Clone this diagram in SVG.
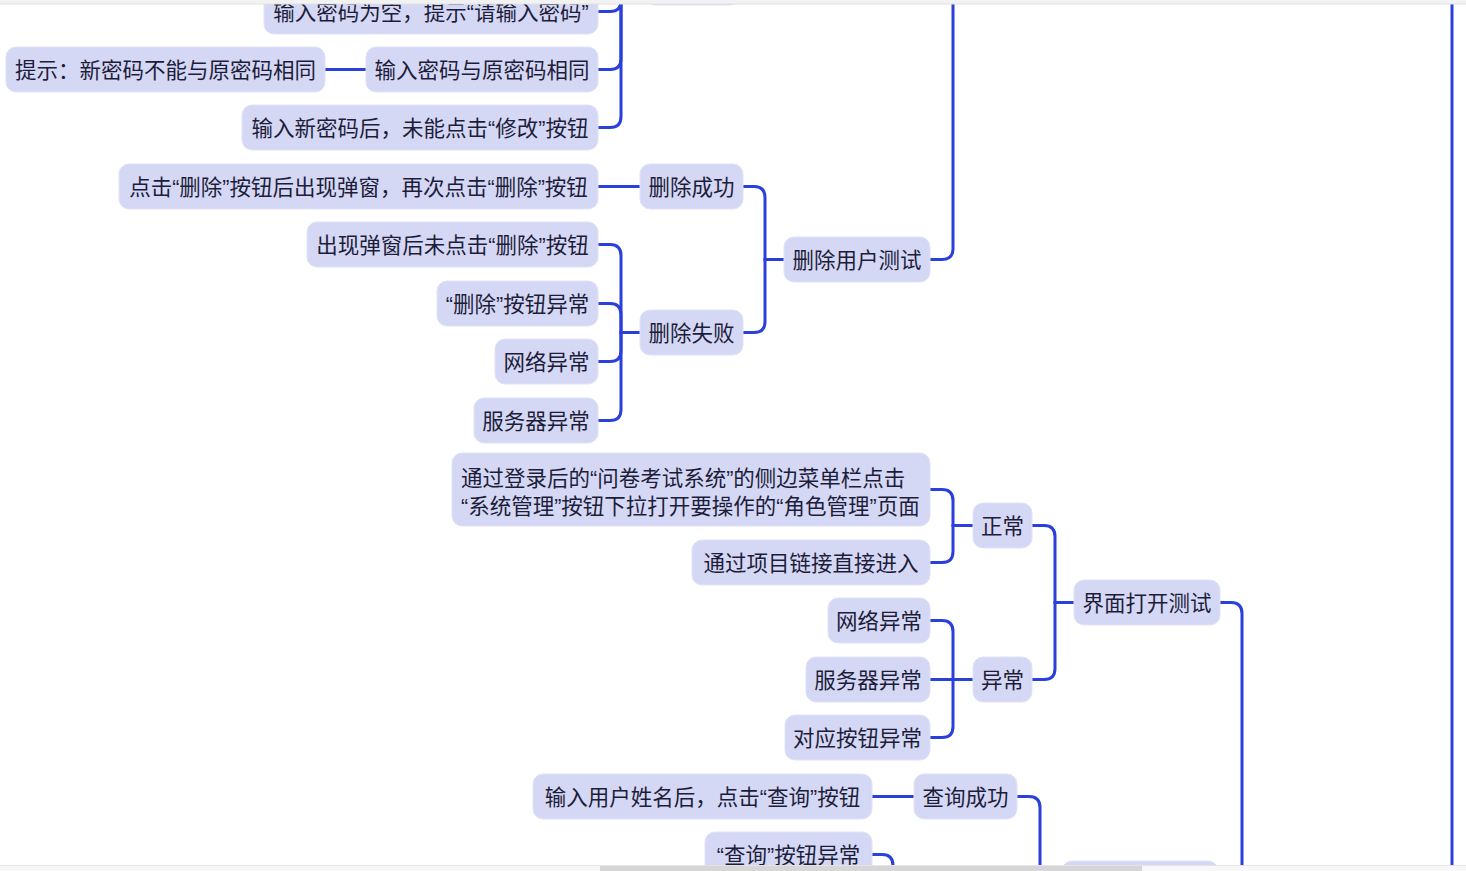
<svg xmlns="http://www.w3.org/2000/svg" width="1466" height="871" viewBox="0 0 1466 871">
<style>
.n rect{fill:#d5d8f5;stroke:#dfe2f8;stroke-width:1}
.n text{font-family:"Liberation Sans","Noto Sans CJK SC",sans-serif;font-size:21.5px;fill:#1d1d3a;text-anchor:middle}
.n text.l{text-anchor:start}
#links path{fill:none;stroke:#2b3fdb;stroke-width:3;stroke-linecap:round}
</style>
<rect width="1466" height="871" fill="#ffffff"/>
<g id="links">
<path d="M325,69.5 H366"/>
<path d="M598,11.5 H610 Q621,11.5 621,0.5 V-18 H645"/>
<path d="M598,69.5 H610 Q621,69.5 621,58.5 V-18 H645"/>
<path d="M598,127.5 H610 Q621,127.5 621,116.5 V-18 H645"/>
<path d="M598,186.5 H640"/>
<path d="M598,244.5 H610 Q621,244.5 621,255.5 V332.5 H640"/>
<path d="M598,303.5 H610 Q621,303.5 621,314.5 V332.5 H640"/>
<path d="M598,361.5 H610 Q621,361.5 621,350.5 V332.5 H640"/>
<path d="M598,420.5 H610 Q621,420.5 621,409.5 V332.5 H640"/>
<path d="M743,186.5 H754 Q765,186.5 765,197.5 V259.5 H784"/>
<path d="M743,332.5 H754 Q765,332.5 765,321.5 V259.5 H784"/>
<path d="M930,259.5 H942 Q953,259.5 953,248.5 V-20"/>
<path d="M930,489.5 H942 Q953,489.5 953,500.5 V525.5 H973"/>
<path d="M930,562.5 H942 Q953,562.5 953,551.5 V525.5 H973"/>
<path d="M930,620.5 H942 Q953,620.5 953,631.5 V679.5 H973"/>
<path d="M930,679.5 H973"/>
<path d="M930,737.5 H942 Q953,737.5 953,726.5 V679.5 H973"/>
<path d="M1032,525.5 H1044 Q1055,525.5 1055,536.5 V602.5 H1074"/>
<path d="M1032,679.5 H1044 Q1055,679.5 1055,668.5 V602.5 H1074"/>
<path d="M1220,602.5 H1231 Q1242,602.5 1242,613.5 V900"/>
<path d="M872,796.5 H914"/>
<path d="M1017,796.5 H1029 Q1040,796.5 1040,807.5 V883 H1062"/>
<path d="M872,854.5 H882 Q893,854.5 893,865.5 V900"/>
<path d="M1452,-10 V900"/>
</g>
<g id="n-top" class="n"><rect x="645" y="-40" width="95" height="45" rx="10"/></g>
<g id="n1" class="n"><rect x="264" y="-11" width="334" height="45" rx="10"/><text x="431" y="19.5">输入密码为空，提示“请输入密码”</text></g>
<g id="n2" class="n"><rect x="366" y="47" width="232" height="45" rx="10"/><text x="482" y="77.5">输入密码与原密码相同</text></g>
<g id="n2a" class="n"><rect x="6" y="47" width="319" height="45" rx="10"/><text x="165.5" y="77.5">提示：新密码不能与原密码相同</text></g>
<g id="n3" class="n"><rect x="242" y="105" width="356" height="45" rx="10"/><text x="420" y="135.5">输入新密码后，未能点击“修改”按钮</text></g>
<g id="n-del-ok" class="n"><rect x="640" y="164" width="103" height="45" rx="10"/><text x="691.5" y="194.5">删除成功</text></g>
<g id="n-del-ok-1" class="n"><rect x="119" y="164" width="479" height="45" rx="10"/><text x="358.5" y="194.5">点击“删除”按钮后出现弹窗，再次点击“删除”按钮</text></g>
<g id="n-del-f1" class="n"><rect x="307" y="222" width="291" height="45" rx="10"/><text x="452.5" y="252.5">出现弹窗后未点击“删除”按钮</text></g>
<g id="n-del-f2" class="n"><rect x="437" y="281" width="161" height="45" rx="10"/><text x="517.5" y="311.5">“删除”按钮异常</text></g>
<g id="n-del-f3" class="n"><rect x="495" y="339" width="103" height="45" rx="10"/><text x="546.5" y="369.5">网络异常</text></g>
<g id="n-del-f4" class="n"><rect x="474" y="398" width="124" height="45" rx="10"/><text x="536" y="428.5">服务器异常</text></g>
<g id="n-del-fail" class="n"><rect x="640" y="310" width="103" height="45" rx="10"/><text x="691.5" y="340.5">删除失败</text></g>
<g id="n-del" class="n"><rect x="784" y="237" width="146" height="45" rx="10"/><text x="857" y="267.5">删除用户测试</text></g>
<g id="n-ok-1" class="n"><rect x="452" y="453" width="478" height="73" rx="10"/><text class="l" x="461" y="485.5">通过登录后的“问卷考试系统”的侧边菜单栏点击</text><text class="l" x="461" y="513.5">“系统管理”按钮下拉打开要操作的“角色管理”页面</text></g>
<g id="n-ok-2" class="n"><rect x="692" y="540" width="238" height="45" rx="10"/><text x="811" y="570.5">通过项目链接直接进入</text></g>
<g id="n-ok" class="n"><rect x="973" y="503" width="59" height="45" rx="10"/><text x="1002.5" y="533.5">正常</text></g>
<g id="n-ex-1" class="n"><rect x="828" y="598" width="102" height="45" rx="10"/><text x="879" y="628.5">网络异常</text></g>
<g id="n-ex-2" class="n"><rect x="806" y="657" width="124" height="45" rx="10"/><text x="868" y="687.5">服务器异常</text></g>
<g id="n-ex-3" class="n"><rect x="785" y="715" width="145" height="45" rx="10"/><text x="857.5" y="745.5">对应按钮异常</text></g>
<g id="n-ex" class="n"><rect x="973" y="657" width="59" height="45" rx="10"/><text x="1002.5" y="687.5">异常</text></g>
<g id="n-ui" class="n"><rect x="1074" y="580" width="146" height="45" rx="10"/><text x="1147" y="610.5">界面打开测试</text></g>
<g id="n-q-1" class="n"><rect x="533" y="774" width="339" height="45" rx="10"/><text x="702.5" y="804.5">输入用户姓名后，点击“查询”按钮</text></g>
<g id="n-q-ok" class="n"><rect x="914" y="774" width="103" height="45" rx="10"/><text x="965.5" y="804.5">查询成功</text></g>
<g id="n-q-f1" class="n"><rect x="705" y="832" width="167" height="45" rx="10"/><text x="788.5" y="862.5">“查询”按钮异常</text></g>
<g id="n-bottom" class="n"><rect x="1062" y="861" width="156" height="45" rx="10"/></g>
<rect x="0" y="0" width="1466" height="4" fill="#f2f2f2"/>
<line x1="0" y1="4" x2="1466" y2="4" stroke="#e2e2e2" stroke-width="1"/>
<rect x="0" y="865" width="1466" height="6" fill="#f8f8f8"/>
<line x1="0" y1="865.5" x2="1466" y2="865.5" stroke="#e4e4e4" stroke-width="1"/>
<rect x="600" y="866" width="542" height="5" fill="#d6d6d6"/>
</svg>
